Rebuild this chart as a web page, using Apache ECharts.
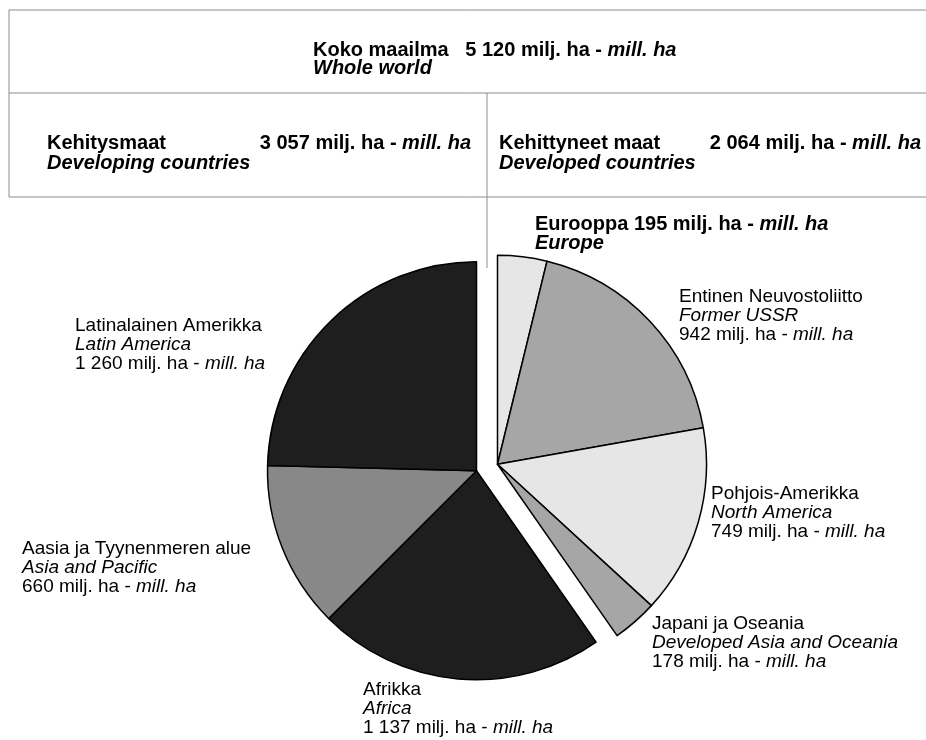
<!DOCTYPE html>
<html>
<head>
<meta charset="utf-8">
<script src="https://cdn.jsdelivr.net/npm/echarts@6/dist/echarts.min.js"></script>
<style>
  html, body { margin: 0; padding: 0; background: #fff; }
  #chart { width: 926px; height: 740px; }
</style>
</head>
<body>
<div id="chart"></div>
<script>
// Maapinta-ala alueittain, milj. ha. Kaksi ryhmää, piirakka irrotettu kahtia.
const FONT = '"Liberation Sans", Arial, sans-serif';

const developedFi = ['Eurooppa', 'Entinen Neuvostoliitto', 'Pohjois-Amerikka', 'Japani ja Oseania'];
const developedEn = ['Europe', 'Former USSR', 'North America', 'Developed Asia and Oceania'];
const developedVal = [195, 942, 749, 178];
const developedColor = ['#e6e6e6', '#a6a6a6', '#e6e6e6', '#a6a6a6'];

const developingFi = ['Afrikka', 'Aasia ja Tyynenmeren alue', 'Latinalainen Amerikka'];
const developingEn = ['Africa', 'Asia and Pacific', 'Latin America'];
const developingVal = [1137, 660, 1260];
const developingColor = ['#1e1e1e', '#888888', '#1e1e1e'];

// otsikkolaatikon luvut
const worldTotal = '5 120';
const developingTotal = '3 057';
const developedTotal = '2 064';

// tekstien vasen yläkulma
const developedLabelPos = [[535, 215], [679, 287], [711, 484], [652, 614]];
const developingLabelPos = [[363, 680], [22, 539], [75, 316]];

const fmt = (v) => String(v).replace(/\B(?=(\d{3})+(?!\d))/g, ' ');

const sumDev = developedVal.reduce((a, b) => a + b, 0);
const sumDing = developingVal.reduce((a, b) => a + b, 0);
const total = sumDev + sumDing;
const spanDev = sumDev / total * 360;

// irrotus puolittajan suuntaan
const base = [487, 467.5], R = 209, off = 11;
const midDev = (90 - spanDev / 2) * Math.PI / 180;
const midDing = (90 - spanDev - (360 - spanDev) / 2) * Math.PI / 180;
const centerDev = [base[0] + off * Math.cos(midDev), base[1] - off * Math.sin(midDev)];
const centerDing = [base[0] + off * Math.cos(midDing), base[1] - off * Math.sin(midDing)];

const rich = {
  n: { fontFamily: FONT, fontSize: 19, lineHeight: 19, color: '#000' },
  i: { fontFamily: FONT, fontSize: 19, lineHeight: 19, color: '#000', fontStyle: 'italic' },
  b: { fontFamily: FONT, fontSize: 20, lineHeight: 19, color: '#000', fontWeight: 'bold' },
  bi: { fontFamily: FONT, fontSize: 20, lineHeight: 19, color: '#000', fontWeight: 'bold', fontStyle: 'italic' }
};

function makeData(fi, en, val, col) {
  return val.map((v, k) => ({
    name: en[k], value: v,
    itemStyle: { color: col[k] }
  }));
}

function labelText(fi, en, val, k, bold) {
  if (bold) {
    return `{b|${fi[k]} ${fmt(val[k])} milj. ha - }{bi|mill. ha}\n{bi|${en[k]}}`;
  }
  return `{n|${fi[k]}}\n{i|${en[k]}}\n{n|${fmt(val[k])} milj. ha - }{i|mill. ha}`;
}

function pieSeries(fi, en, val, col, pos, center, start, end, boldFirst) {
  return {
    type: 'pie',
    center: center,
    radius: R,
    startAngle: start,
    endAngle: end,
    clockwise: true,
    animation: false,
    silent: true,
    avoidLabelOverlap: false,
    itemStyle: { borderColor: '#000', borderWidth: 1.5 },
    label: {
      show: true,
      position: 'outside',
      formatter: (p) => labelText(fi, en, val, p.dataIndex, boldFirst && p.dataIndex === 0),
      rich: rich
    },
    labelLine: { show: false },
    labelLayout: (p) => ({ x: pos[p.dataIndex][0], y: pos[p.dataIndex][1], align: 'left', verticalAlign: 'top' }),
    emphasis: { disabled: true },
    data: makeData(fi, en, val, col)
  };
}

const lineStyle = { stroke: '#8c8c8c', lineWidth: 1 };
const hText = (x, y, text, align) => ({
  type: 'text', x: x, y: y, silent: true,
  style: { text: text, rich: rich, align: align || 'left', verticalAlign: 'middle', fontFamily: FONT }
});

const chart = echarts.init(document.getElementById('chart'), null, { renderer: 'canvas' });
chart.setOption({
  backgroundColor: '#fff',
  animation: false,
  graphic: [
    { type: 'line', shape: { x1: 9, y1: 10, x2: 926, y2: 10 }, style: lineStyle, silent: true },
    { type: 'line', shape: { x1: 9, y1: 93, x2: 926, y2: 93 }, style: lineStyle, silent: true },
    { type: 'line', shape: { x1: 9, y1: 197, x2: 926, y2: 197 }, style: lineStyle, silent: true },
    { type: 'line', shape: { x1: 9, y1: 10, x2: 9, y2: 197 }, style: lineStyle, silent: true },
    { type: 'line', shape: { x1: 487, y1: 93, x2: 487, y2: 268 }, style: lineStyle, silent: true },
    hText(313, 50, `{b|Koko maailma   ${worldTotal} milj. ha - }{bi|mill. ha}`),
    hText(313, 68, '{bi|Whole world}'),
    hText(47, 143, '{b|Kehitysmaat}'),
    hText(471, 143, `{b|${developingTotal} milj. ha - }{bi|mill. ha}`, 'right'),
    hText(47, 163, '{bi|Developing countries}'),
    hText(499, 143, '{b|Kehittyneet maat}'),
    hText(921, 143, `{b|${developedTotal} milj. ha - }{bi|mill. ha}`, 'right'),
    hText(499, 163, '{bi|Developed countries}')
  ],
  series: [
    pieSeries(developedFi, developedEn, developedVal, developedColor, developedLabelPos,
      centerDev, 90, 90 - spanDev, true),
    pieSeries(developingFi, developingEn, developingVal, developingColor, developingLabelPos,
      centerDing, 90 - spanDev, -270, false)
  ]
});
</script>
</body>
</html>
